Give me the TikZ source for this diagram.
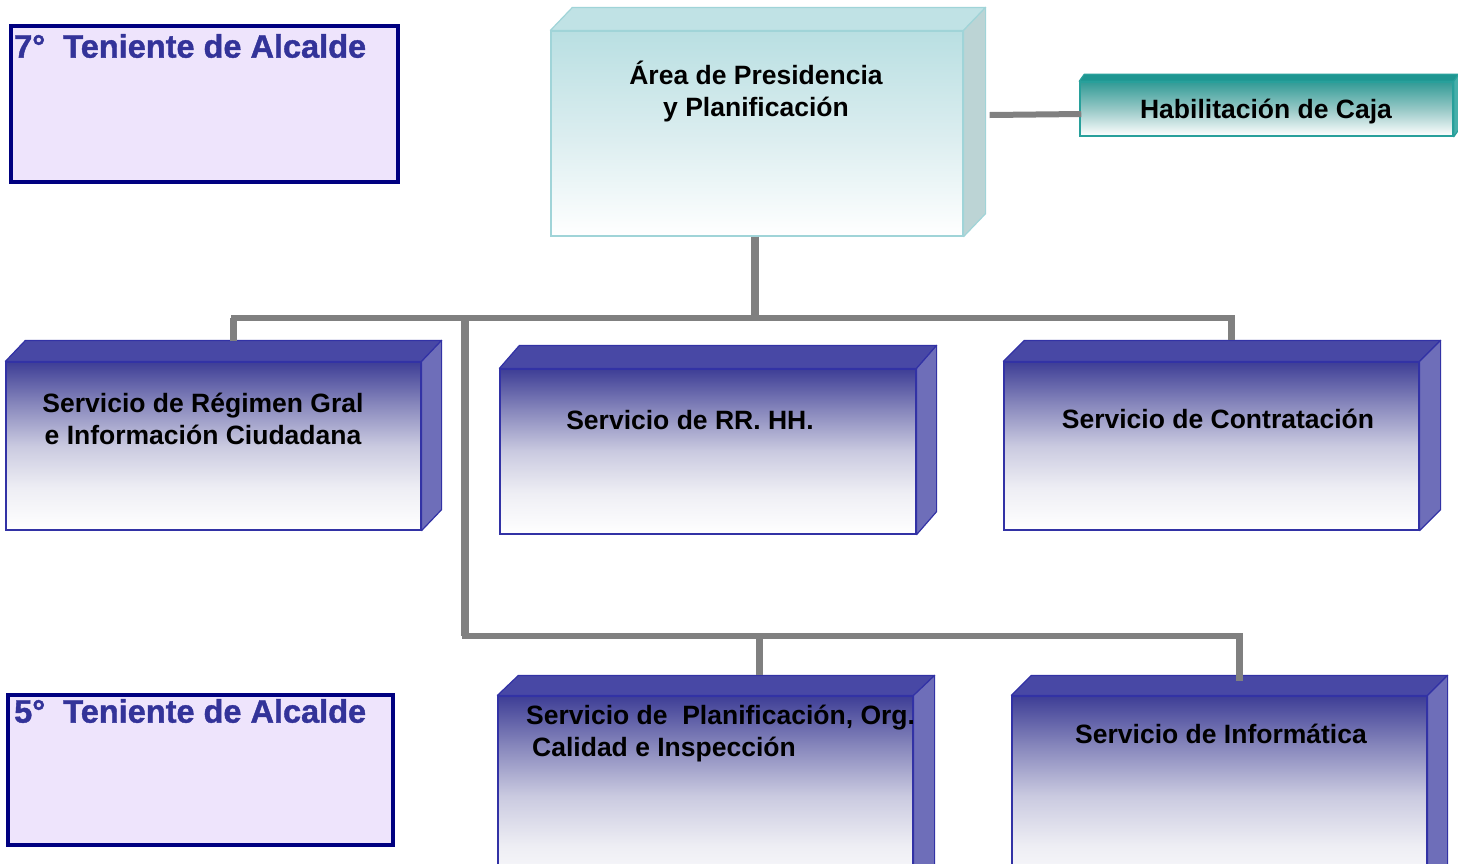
\documentclass[tikz,border=0pt]{standalone}
\usepackage{fontspec}
\setmainfont{Liberation Sans}
\newfontfamily\tenfam{Liberation Sans}[BoldFeatures={FakeBold=1.2}]
\usetikzlibrary{calc}
\definecolor{blA}{RGB}{62,62,150}
\definecolor{blB}{RGB}{135,135,188}
\definecolor{blC}{RGB}{202,202,224}
\definecolor{blD}{RGB}{238,238,244}
\definecolor{bborder}{RGB}{50,50,165}
\definecolor{btopc}{RGB}{72,72,165}
\definecolor{bsidec}{RGB}{110,110,185}
\definecolor{tlA}{RGB}{185,223,226}
\definecolor{tlB}{RGB}{218,237,239}
\definecolor{tborder}{RGB}{160,212,216}
\definecolor{ttopc}{RGB}{192,226,229}
\definecolor{tsidec}{RGB}{188,212,213}
\definecolor{cA}{RGB}{50,155,150}
\definecolor{cB}{RGB}{150,200,198}
\definecolor{cborder}{RGB}{40,160,155}
\definecolor{ctopc}{RGB}{30,150,145}
\definecolor{csidec}{RGB}{70,175,170}
\definecolor{conncol}{RGB}{128,128,128}
\definecolor{navy}{RGB}{0,0,128}
\definecolor{lav}{RGB}{238,228,252}
\definecolor{tenblue}{RGB}{51,51,153}
\pgfdeclareverticalshading{blueshade}{100bp}{color(0bp)=(white); color(25bp)=(white); color(37.5bp)=(blD); color(50bp)=(blC); color(62.5bp)=(blB); color(75bp)=(blA); color(100bp)=(blA)}
\pgfdeclareverticalshading{tealshade}{100bp}{color(0bp)=(white); color(25bp)=(white); color(50bp)=(tlB); color(75bp)=(tlA); color(100bp)=(tlA)}
\pgfdeclareverticalshading{cajashade}{100bp}{color(0bp)=(white); color(25bp)=(white); color(50bp)=(cB); color(75bp)=(cA); color(100bp)=(cA)}
\newcommand\lblfont{\fontsize{26.5}{32}\selectfont\bfseries}
\newcommand\tenfont{\tenfam\fontsize{32.5}{36}\selectfont\bfseries}
\newcommand\boxfaces[4]{%
  \filldraw[#4top] (#1.north west) -- ++(#2,-#3) -- ($(#1.north east)+(#2,-#3)$) -- (#1.north east) -- cycle;
  \filldraw[#4side] (#1.north east) -- ++(#2,-#3) -- ($(#1.south east)+(#2,-#3)$) -- (#1.south east) -- cycle;
}
\tikzset{
  bbox/.style={draw=bborder, line width=1.2pt, shading=blueshade, inner sep=0pt},
  btop/.style={fill=btopc, draw=bborder, line width=1.2pt, line join=round},
  bside/.style={fill=bsidec, draw=bborder, line width=1.2pt, line join=round},
  tbox/.style={draw=tborder, line width=1.2pt, shading=tealshade, inner sep=0pt},
  ttop/.style={fill=ttopc, draw=tborder, line width=1.2pt, line join=round},
  tside/.style={fill=tsidec, draw=tborder, line width=1.2pt, line join=round},
  cbox/.style={draw=cborder, line width=1.5pt, shading=cajashade, inner sep=0pt},
  ctop/.style={fill=ctopc, draw=cborder, line width=1.2pt, line join=round},
  cside/.style={fill=csidec, draw=cborder, line width=1.2pt, line join=round},
  lbl/.style={font=\lblfont, text=black, align=center, inner sep=0pt},
  tenbox/.style={draw=navy, line width=4pt, fill=lav, inner sep=0pt},
  tenlbl/.style={font=\tenfont, text=tenblue, anchor=west, inner sep=0pt},
  connh/.style={draw=conncol, line width=6pt, line cap=rect},
  connv/.style={draw=conncol, line width=7.5pt},
}
\begin{document}
\begin{tikzpicture}[x=1pt,y=-1pt]
\useasboundingbox (0,0) rectangle (1458,863);
\clip (0,0) rectangle (1458,863);
\fill[white] (0,0) rectangle (1458,863);

% boxes
\node[tbox, minimum width=412, minimum height=205] (area) at (757,133.5) {};
\boxfaces{area}{22}{23}{t}
\node[cbox, minimum width=373, minimum height=54] (caja) at (1266.5,109) {};
\boxfaces{caja}{5}{7}{c}
\node[bbox, minimum width=415, minimum height=168] (reg) at (213.5,446) {};
\boxfaces{reg}{20}{21}{b}
\node[bbox, minimum width=416, minimum height=165] (rrhh) at (708,451.5) {};
\boxfaces{rrhh}{20}{23}{b}
\node[bbox, minimum width=415, minimum height=168] (contr) at (1211.5,446) {};
\boxfaces{contr}{21}{21}{b}
\node[bbox, minimum width=415, minimum height=200] (plan) at (705.5,796) {};
\boxfaces{plan}{21}{20}{b}
\node[bbox, minimum width=415, minimum height=200] (info) at (1219.5,796) {};
\boxfaces{info}{20}{20}{b}

% connector junctions
\coordinate (j1) at (755,318);
\coordinate (j2) at (465,318);
\coordinate (j3) at (465,636);
\coordinate (areabot) at ($(area.south)+(-2,0)$);
\coordinate (regtop) at ($(reg.north)+(20,-20)$);
\coordinate (contrtop) at ($(contr.north)+(20,-21)$);
\coordinate (plantop) at ($(plan.north)+(54,-20)$);
\coordinate (infotop) at ($(info.north)+(20,-14)$);

\draw[connv] (areabot) -- (j1);
\draw[connh] (regtop |- j1) -- (contrtop |- j1);
\draw[connv] (regtop) -- (regtop |- j1);
\draw[connv] (contrtop) -- (contrtop |- j1);
\draw[connv] (j2) -- (j3);
\draw[connh] (j3) -- (j3 -| infotop);
\draw[connv] (j3 -| infotop) -- (infotop);
\draw[connv] (j3 -| plantop) -- (plantop);
\draw[connh, line cap=butt] ($(area.east)+(26,-18.5)$) -- ($(caja.west)+(2,5)$);

% texts
\node[lbl] (tarea) at (756,92) {Área de Presidencia\\ y Planificación};
\node[lbl] (tcaja) at (1266,112) {Habilitación de Caja};
\node[lbl] (treg) at (203,419) {Servicio de Régimen Gral\\ e Información Ciudadana};
\node[lbl] (trrhh) at (690,420) {Servicio de RR. HH.};
\node[lbl] (tcontr) at (1218,419) {Servicio de Contratación};
\node[lbl, anchor=west, align=left] (tplan) at (526,734) {Servicio de\ \ Planificación, Org.\\\hspace*{6pt}Calidad e Inspección};
\node[lbl] (tinfo) at (1221,734) {Servicio de Informática};

% teniente boxes
\node[tenbox, minimum width=387, minimum height=156] (ten7) at (204.5,104) {};
\node[tenlbl] (lten7) at (14,46) {7°\ \ Teniente de Alcalde};
\node[tenbox, minimum width=385, minimum height=150] (ten5) at (200.5,770) {};
\node[tenlbl] (lten5) at (14,711) {5°\ \ Teniente de Alcalde};
\end{tikzpicture}
\end{document}
